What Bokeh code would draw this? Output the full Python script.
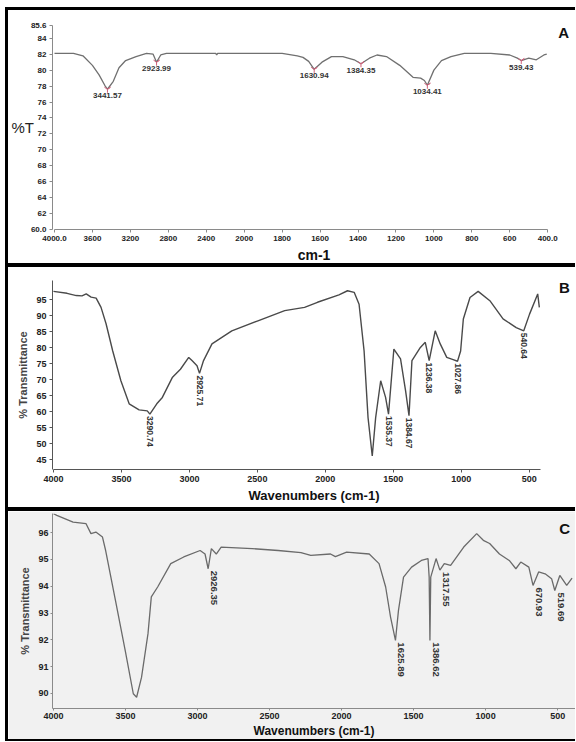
import math
from bokeh.plotting import figure
from bokeh.layouts import column, row
from bokeh.models import Range1d, FixedTicker, Label, ColumnDataSource, Div, Title
from bokeh.core.properties import value
from bokeh.embed import file_html
from bokeh.resources import INLINE

# ---------------- Panel A data (wavenumber cm-1, %T) ----------------
A_wn = [4000, 3800, 3700, 3600, 3530, 3470, 3441.57, 3380, 3320, 3250,
        3140, 3030, 2960, 2923.99, 2880, 2820, 2600, 2400, 2300, 2290,
        2280, 2000, 1800, 1720, 1690, 1660, 1630.94, 1590, 1540, 1480,
        1420, 1384.35, 1340, 1300, 1250, 1180, 1110, 1070, 1050, 1034.41,
        1000, 960, 910, 840, 700, 600, 560, 539.43, 500, 460,
        420, 405]
A_T = [82.1, 82.1, 81.8, 80.6, 79.4, 78.1, 77.6, 78.6, 80.3, 81.2,
       81.7, 82.1, 82.0, 81.0, 81.9, 82.1, 82.1, 82.1, 82.1, 81.9,
       82.1, 82.1, 82.1, 81.8, 81.6, 81.1, 80.1, 81.0, 81.7, 81.7,
       81.3, 80.8, 81.5, 81.9, 81.7, 80.6, 79.1, 79.0, 78.7, 78.1,
       80.0, 81.2, 81.7, 82.1, 82.1, 81.9, 81.5, 81.2, 81.5, 81.3,
       81.9, 82.0]
A_peaks = [3441.57, 2923.99, 1630.94, 1384.35, 1034.41, 539.43]
A_peak_T = [77.6, 81.0, 80.1, 80.8, 78.1, 81.2]
A_xticks = [4000, 3600, 3200, 2800, 2400, 2000, 1800, 1600, 1400, 1200, 1000, 800, 600, 400]
A_xtick_labels = ["4000.0", "3600", "3200", "2800", "2400", "2000", "1800", "1600",
                  "1400", "1200", "1000", "800", "600", "400.0"]
A_yticks = [60, 62, 64, 66, 68, 70, 72, 74, 76, 78, 80, 82, 84, 85.6]
A_ytick_labels = ["60.0", "62", "64", "66", "68", "70", "72", "74", "76", "78", "80", "82", "84", "85.6"]

# ---------------- Panel B data ----------------
B_wn = [4000, 3900, 3832, 3790, 3759, 3723, 3686, 3650, 3613, 3564,
        3504, 3443, 3370, 3310, 3290.74, 3240, 3199, 3126, 3066, 3005,
        2981, 2944, 2925.71, 2896, 2834, 2688, 2496, 2299, 2153, 2058,
        1900, 1837, 1788, 1752, 1715, 1686, 1655, 1630, 1593, 1557,
        1535.37, 1496, 1447, 1410, 1384.67, 1363, 1301, 1265, 1236.38, 1192,
        1155, 1107, 1060, 1027.86, 1005, 985, 936, 876, 790, 693,
        596, 540.64, 498, 438, 426]
B_T = [97.6, 97.0, 96.3, 96.2, 96.8, 95.8, 95.5, 92.6, 87.5, 79.0,
       69.7, 62.5, 60.6, 60.3, 59.3, 62.5, 64.5, 70.7, 73.3, 77.0,
       76.0, 74.4, 72.0, 76.0, 81.2, 85.3, 88.4, 91.6, 92.6, 94.2,
       96.5, 97.8, 97.3, 93.6, 79.0, 58.2, 46.2, 58.2, 69.7, 64.5,
       59.3, 79.6, 76.5, 66.6, 58.8, 76.0, 80.1, 81.7, 76.0, 85.3,
       81.2, 77.0, 76.3, 75.8, 79.0, 89.0, 95.7, 97.6, 94.7, 89.0,
       86.3, 85.3, 90.5, 96.8, 92.6]
B_peaks = ["3290.74", "2925.71", "1535.37", "1384.67", "1236.38", "1027.86", "540.64"]
B_peak_T = [59.3, 72.0, 59.3, 58.8, 76.0, 75.8, 85.3]
B_xticks = [4000, 3500, 3000, 2500, 2000, 1500, 1000, 500]
B_yticks = [45, 50, 55, 60, 65, 70, 75, 80, 85, 90, 95]

# ---------------- Panel C data ----------------
C_wn = [4000, 3977, 3864, 3774, 3740, 3706, 3660, 3638, 3570, 3502,
        3446, 3423, 3389, 3344, 3321, 3277, 3186, 3096, 2982, 2948,
        2926.35, 2904, 2870, 2836, 2621, 2440, 2282, 2214, 2077, 2043,
        1965, 1808, 1740, 1694, 1660, 1625.89, 1605, 1570, 1514, 1446,
        1400, 1392, 1386.62, 1381, 1344, 1317.55, 1287, 1243, 1152, 1062,
        1016, 972, 904, 836, 790, 756, 700, 670.93, 632, 587,
        542, 519.69, 485, 437, 400]
C_T = [96.7, 96.64, 96.39, 96.33, 95.96, 96.02, 95.83, 95.33, 93.47, 91.6,
       89.99, 89.86, 90.6, 92.23, 93.6, 93.97, 94.84, 95.09, 95.33, 95.2,
       94.65, 95.4, 95.2, 95.46, 95.4, 95.33, 95.25, 95.15, 95.2, 95.1,
       95.27, 95.2, 94.84, 93.97, 92.85, 91.98, 93.1, 94.34, 94.71, 94.96,
       95.03, 94.34, 91.98, 94.34, 95.03, 94.6, 94.84, 94.78, 95.46, 95.96,
       95.71, 95.59, 95.2, 94.96, 94.65, 94.9, 94.71, 94.03, 94.53, 94.46,
       94.28, 93.84, 94.4, 94.03, 94.3]
C_peaks = ["2926.35", "1625.89", "1386.62", "1317.55", "670.93", "519.69"]
C_peak_T = [94.65, 91.98, 91.98, 94.6, 94.03, 93.84]
C_xticks = [4000, 3500, 3000, 2500, 2000, 1500, 1000, 500]
C_yticks = [90, 91, 92, 93, 94, 95, 96]

W = 567
HA, HB, HC = 253, 240, 228
FONT = "Liberation Sans"


def ir_x(w):
    # OMNIC-style axis: scale doubles below 2000 cm-1
    return 4000 - w if w >= 2000 else 2000 + 2 * (2000 - w)


def style(p, size, color, tick_out=3, standoff=3):
    for ax in (p.xaxis[0], p.yaxis[0]):
        ax.axis_line_color = color
        ax.major_tick_line_color = color
        ax.minor_tick_line_color = None
        ax.major_tick_in = 0
        ax.major_tick_out = tick_out
        ax.major_label_text_font = FONT
        ax.major_label_text_font_style = "bold"
        ax.major_label_text_font_size = size
        ax.major_label_text_color = "#222222"
        ax.major_label_standoff = standoff
    p.xgrid.visible = False
    p.ygrid.visible = False
    p.outline_line_color = None


def x_title(p, text, size, offset, standoff):
    t = Title(text=text, align="center", offset=offset, text_font=FONT,
              text_font_size=size, text_font_style="bold", text_color="#111111")
    try:
        t.standoff = standoff
    except Exception:
        pass
    p.add_layout(t, "below")


def y_title(p, text):
    ax = p.yaxis[0]
    ax.axis_label = text
    ax.axis_label_text_font = FONT
    ax.axis_label_text_font_style = "bold"
    ax.axis_label_text_font_size = "11px"
    ax.axis_label_standoff = 4


def letter(p, x, y, text):
    p.add_layout(Label(x=x, y=y, text=text, text_font=FONT, text_font_size="15px",
                       text_font_style="bold", text_align="center",
                       text_baseline="middle", text_color="#111111"))


def bar(w, h):
    return Div(text="", width=w, height=h, margin=0,
               styles={"background-color": "black"})


def gap(w, h):
    return Div(text="", width=w, height=h, margin=0)


# ---------------- Panel A ----------------
pa = figure(width=W, height=HA, output_backend="svg", toolbar_location=None,
            x_range=Range1d(-21, 5493), y_range=Range1d(60, 85.6),
            min_border_left=40, min_border_right=0, min_border_top=15, min_border_bottom=32)
srcA = ColumnDataSource(dict(x=[ir_x(w) for w in A_wn], y=A_T))
pa.line("x", "y", source=srcA, line_color="#707070", line_width=1.3)
pkA = ColumnDataSource(dict(x=[ir_x(w) for w in A_peaks], y=A_peak_T,
                            t=["%.2f" % w for w in A_peaks]))
pa.scatter("x", "y", source=pkA, marker="y", size=7, line_color="#d0607a", line_width=1)
pa.text("x", "y", text="t", source=pkA, text_align="center", text_baseline="top",
        y_offset=4, text_font=value(FONT), text_font_size="8px", text_font_style="bold",
        text_color="#333333")
pa.xaxis.ticker = FixedTicker(ticks=[ir_x(w) for w in A_xticks])
pa.xaxis.major_label_overrides = {ir_x(w): s for w, s in zip(A_xticks, A_xtick_labels)}
pa.xaxis.bounds = (ir_x(4000), ir_x(400))
pa.yaxis.ticker = FixedTicker(ticks=A_yticks)
pa.yaxis.major_label_overrides = {t: s for t, s in zip(A_yticks, A_ytick_labels)}
style(pa, "8px", "#8a8a8a")
axA = pa.yaxis[0]
axA.axis_label = "%T"
axA.axis_label_text_font = FONT
axA.axis_label_text_font_style = "normal"
axA.axis_label_text_font_size = "15px"
axA.axis_label_text_color = "#222222"
if "axis_label_orientation" in type(axA).properties():
    axA.axis_label_orientation = "horizontal"
    axA.axis_label_standoff = -6
else:
    axA.axis_label_standoff = 2
x_title(pa, "cm-1", "14px", -21, 2)
letter(pa, 5367, 84.7, "A")

# ---------------- Panel B ----------------
pb = figure(width=W, height=HB, output_backend="svg", toolbar_location=None,
            x_range=Range1d(4007, 160), y_range=Range1d(42, 101),
            min_border_left=40, min_border_right=0, min_border_top=13, min_border_bottom=38)
pb.line(B_wn, B_T, line_color="#4a4a4a", line_width=1.4)
pb.text([float(s) for s in B_peaks], B_peak_T, text=B_peaks, angle=-math.pi / 2,
        text_align="left", text_baseline="middle", y_offset=2,
        text_font=value(FONT), text_font_size="8.5px", text_font_style="bold",
        text_color="#333333")
pb.xaxis.ticker = FixedTicker(ticks=B_xticks)
pb.xaxis.bounds = (4000, 415)
pb.yaxis.ticker = FixedTicker(ticks=B_yticks)
style(pb, "9px", "#555555")
y_title(pb, "% Transmittance")
x_title(pb, "Wavenumbers (cm-1)", "13px", -32, 2)
letter(pb, 241, 98.9, "B")

# ---------------- Panel C ----------------
pc = figure(width=W, height=HC, output_backend="svg", toolbar_location=None,
            x_range=Range1d(4007, 376), y_range=Range1d(89.44, 96.71),
            min_border_left=40, min_border_right=0, min_border_top=2, min_border_bottom=31,
            background_fill_color="#f1f1f1", border_fill_color="#f1f1f1")
pc.line(C_wn, C_T, line_color="#6a6a6a", line_width=1.3)
pc.text([float(s) for s in C_peaks], C_peak_T, text=C_peaks, angle=-math.pi / 2,
        text_align="left", text_baseline="middle", x_offset=6, y_offset=2,
        text_font=value(FONT), text_font_size="9.5px", text_font_style="bold",
        text_color="#333333")
pc.xaxis.ticker = FixedTicker(ticks=C_xticks)
pc.yaxis.ticker = FixedTicker(ticks=C_yticks)
style(pc, "9px", "#8a8a8a", tick_out=2, standoff=2)
y_title(pc, "% Transmittance")
x_title(pc, "Wavenumbers (cm-1)", "12px", -34, 0)
letter(pc, 452, 96.15, "C")

panels = column(bar(W, 3), pa, bar(W, 4), pb, bar(W, 4), pc, bar(W, 2), spacing=0)
body = row(gap(5, 734), bar(3, 734), panels, spacing=0)
layout = column(gap(575, 7), body, spacing=0)
open("out.html", "w").write(file_html(layout, INLINE))
